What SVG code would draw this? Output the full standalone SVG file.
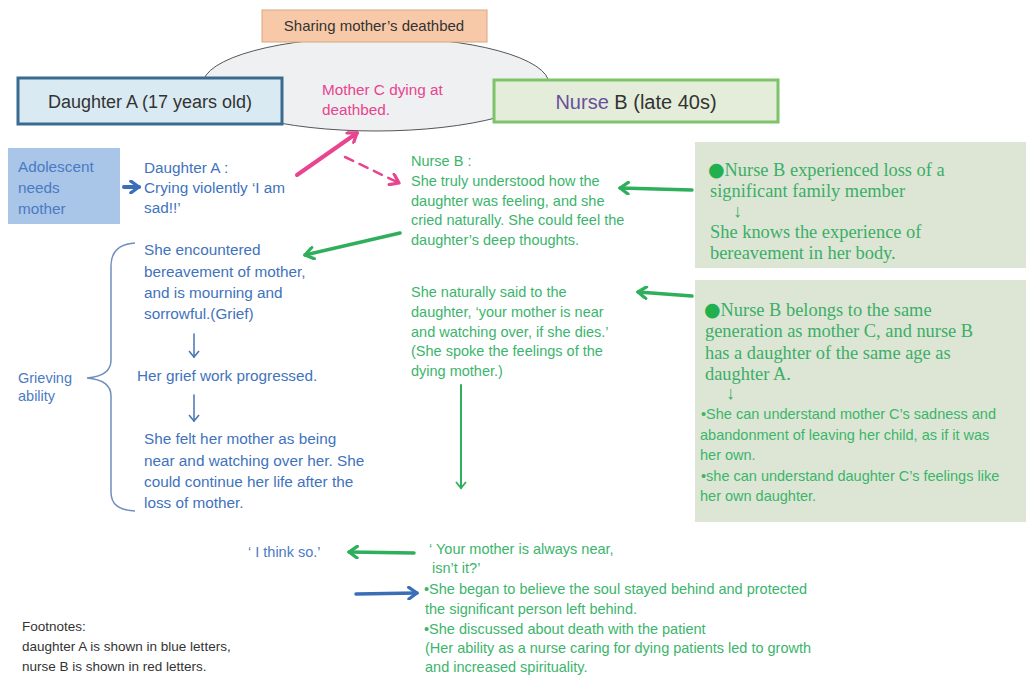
<svg xmlns="http://www.w3.org/2000/svg" width="1026" height="675" viewBox="0 0 1026 675">
<defs>
<style>
.s{font-family:"Liberation Sans",Arial,sans-serif;}
.sf{font-family:"Liberation Serif","Times New Roman",serif;}
.blue{fill:#3f73bd;}
.green{fill:#3bb56c;}
.pink{fill:#e9448f;}
.dark{fill:#333333;}
.t14{font-size:14.5px;}
.t15{font-size:15.3px;}
.serif{font-size:18.4px;fill:#3bae68;}
.dot{font-family:"DejaVu Sans",sans-serif;font-size:19px;fill:#22b04f;}
</style>
<marker id="ag" viewBox="0 0 12 12" refX="9" refY="6" markerWidth="14" markerHeight="14" markerUnits="userSpaceOnUse" orient="auto"><path d="M2,1 L9,6 L2,11" fill="none" stroke="#2fae5c" stroke-width="2.8" stroke-linecap="round" stroke-linejoin="round"/></marker>
<marker id="ab" viewBox="0 0 12 12" refX="9" refY="6" markerWidth="14" markerHeight="14" markerUnits="userSpaceOnUse" orient="auto"><path d="M2,1 L9,6 L2,11" fill="none" stroke="#3a6fb8" stroke-width="2.8" stroke-linecap="round" stroke-linejoin="round"/></marker>
<marker id="ap" viewBox="0 0 12 12" refX="9" refY="6" markerWidth="14" markerHeight="14" markerUnits="userSpaceOnUse" orient="auto"><path d="M2,1 L9,6 L2,11" fill="none" stroke="#e9448f" stroke-width="2.8" stroke-linecap="round" stroke-linejoin="round"/></marker>
<marker id="at" viewBox="0 0 12 12" refX="6" refY="10" markerWidth="12" markerHeight="12" markerUnits="userSpaceOnUse" orient="0"><path d="M1,4 L6,10 L11,4" fill="none" stroke="#4a72b5" stroke-width="1.5"/></marker>
<marker id="atg" viewBox="0 0 12 12" refX="6" refY="10" markerWidth="12" markerHeight="12" markerUnits="userSpaceOnUse" orient="0"><path d="M1,4 L6,10 L11,4" fill="none" stroke="#2fae5c" stroke-width="1.8"/></marker>
</defs>
<rect width="1026" height="675" fill="#ffffff"/>

<g id="deathbed">
<ellipse cx="376" cy="84" rx="173" ry="47" fill="#eef0f2" stroke="#555" stroke-width="1"/>
<rect x="262" y="10" width="225" height="32" fill="#f8c9a8" stroke="#d8a684" stroke-width="1"/>
<text class="s dark" x="374" y="31" font-size="15" text-anchor="middle">Sharing mother’s deathbed</text>
<text class="s pink t15" x="322" y="95">Mother C dying at</text>
<text class="s pink t15" x="322" y="115">deathbed.</text>
</g>

<g id="daughterA">
<rect x="18" y="78" width="264" height="46" fill="#d9eaf3" stroke="#3b6a8f" stroke-width="3"/>
<text class="s dark" x="150" y="108" font-size="18" text-anchor="middle">Daughter A (17 years old)</text>
</g>

<g id="nurseB">
<rect x="494" y="80" width="284" height="42" fill="#e3edd9" stroke="#7cc36a" stroke-width="3"/>
<text class="s" x="636" y="109" font-size="20" text-anchor="middle"><tspan fill="#6a4f9c">Nurse</tspan><tspan fill="#333"> B (late 40s)</tspan></text>
</g>

<g id="adolescent">
<rect x="8" y="148" width="112" height="76" fill="#a9c5e8"/>
<text class="s t15" x="18" y="172" fill="#4a7bc4">Adolescent</text>
<text class="s t15" x="18" y="193" fill="#4a7bc4">needs</text>
<text class="s t15" x="18" y="214" fill="#4a7bc4">mother</text>
</g>

<g id="daughterCry">
<text class="s blue t15" x="144" y="173">Daughter A :</text>
<text class="s blue t15" x="144" y="193">Crying violently ‘I am</text>
<text class="s blue t15" x="144" y="213">sad!!’</text>
</g>

<g id="nurseUnderstood">
<text class="s green t14" x="411" y="166">Nurse B :</text>
<text class="s green t14" x="411" y="186">She truly understood how the</text>
<text class="s green t14" x="411" y="206">daughter was feeling, and she</text>
<text class="s green t14" x="411" y="225">cried naturally. She could feel the</text>
<text class="s green t14" x="411" y="245">daughter’s deep thoughts.</text>
</g>

<g id="loss">
<rect x="695" y="142" width="331" height="126" fill="#dde6d4"/>
<text class="sf serif" x="708" y="176"><tspan class="dot">●</tspan>Nurse B experienced loss of a</text>
<text class="sf serif" x="710" y="197">significant family member</text>
<text class="sf serif" x="733" y="217">↓</text>
<text class="sf serif" x="710" y="238">She knows the experience of</text>
<text class="sf serif" x="710" y="259">bereavement in her body.</text>
</g>

<g id="grief">
<text class="s blue t15" x="144" y="255">She encountered</text>
<text class="s blue t15" x="144" y="277">bereavement of mother,</text>
<text class="s blue t15" x="144" y="298">and is mourning and</text>
<text class="s blue t15" x="144" y="319">sorrowful.(Grief)</text>
<text class="s blue t15" x="137" y="381">Her grief work progressed.</text>
<text class="s blue t15" x="144" y="444">She felt her mother as being</text>
<text class="s blue t15" x="144" y="466">near and watching over her. She</text>
<text class="s blue t15" x="144" y="487">could continue her life after the</text>
<text class="s blue t15" x="144" y="508">loss of mother.</text>
</g>

<g id="grieving">
<path d="M135,243 C118,244 111,252 111,266 L111,360 C111,372 100,377 87,378 C100,379 111,384 111,396 L111,492 C111,504 118,510 135,511" fill="none" stroke="#6f8fbd" stroke-width="1.5"/>
<text class="s t14" x="18" y="383" fill="#4a7bc4">Grieving</text>
<text class="s t14" x="18" y="401" fill="#4a7bc4">ability</text>
</g>

<g id="nurseSaid">
<text class="s green t14" x="411" y="297">She naturally said to the</text>
<text class="s green t14" x="411" y="317">daughter, ‘your mother is near</text>
<text class="s green t14" x="411" y="337">and watching over, if she dies.’</text>
<text class="s green t14" x="411" y="356">(She spoke the feelings of the</text>
<text class="s green t14" x="411" y="376">dying mother.)</text>
</g>

<g id="generation">
<rect x="695" y="280" width="331" height="242" fill="#dde6d4"/>
<text class="sf serif" x="704" y="316"><tspan class="dot">●</tspan>Nurse B belongs to the same</text>
<text class="sf serif" x="705" y="337">generation as mother C, and nurse B</text>
<text class="sf serif" x="705" y="359">has a daughter of the same age as</text>
<text class="sf serif" x="705" y="380">daughter A.</text>
<text class="sf serif" x="726" y="399">↓</text>
<text class="s green t14" x="701" y="419">•She can understand mother C’s sadness and</text>
<text class="s green t14" x="700" y="440">abandonment of leaving her child, as if it was</text>
<text class="s green t14" x="700" y="460">her own.</text>
<text class="s green t14" x="701" y="481">•she can understand daughter C’s feelings like</text>
<text class="s green t14" x="700" y="501">her own daughter.</text>
</g>

<g id="thinkSo">
<text class="s t14" x="248" y="557" fill="#4a7bc4">‘ I think so.’</text>
</g>

<g id="alwaysNear">
<text class="s green t14" x="429" y="554">‘ Your mother is always near,</text>
<text class="s green t14" x="432" y="573">isn’t it?’</text>
<text class="s green t14" x="424" y="594">•She began to believe the soul stayed behind and protected</text>
<text class="s green t14" x="425" y="614">the significant person left behind.</text>
<text class="s green t14" x="424" y="634">•She discussed about death with the patient</text>
<text class="s green t14" x="425" y="653">(Her ability as a nurse caring for dying patients led to growth</text>
<text class="s green t14" x="425" y="672">and increased spirituality.</text>
</g>

<g id="footnotes">
<text class="s dark" x="22" y="631" font-size="13.5">Footnotes:</text>
<text class="s dark" x="22" y="651" font-size="13.5">daughter A is shown in blue letters,</text>
<text class="s dark" x="22" y="671" font-size="13.5">nurse B is shown in red letters.</text>
</g>

<g id="connectors" fill="none" stroke-linecap="round">
<path d="M124,187 L139,187" stroke="#3a6fb8" stroke-width="4" marker-end="url(#ab)"/>
<path d="M297,175 L357,133" stroke="#e9448f" stroke-width="4" marker-end="url(#ap)"/>
<path d="M345,157 L399,183" stroke="#e9448f" stroke-width="2.5" stroke-dasharray="9,7" marker-end="url(#ap)"/>
<path d="M692,190 L620,188" stroke="#2fae5c" stroke-width="3.5" marker-end="url(#ag)"/>
<path d="M400,233 L305,255" stroke="#2fae5c" stroke-width="3.5" marker-end="url(#ag)"/>
<path d="M692,296 L638,292" stroke="#2fae5c" stroke-width="3.5" marker-end="url(#ag)"/>
<path d="M194,334 L194,357" stroke="#4a72b5" stroke-width="1.5" marker-end="url(#at)"/>
<path d="M194,395 L194,421" stroke="#4a72b5" stroke-width="1.5" marker-end="url(#at)"/>
<path d="M461,385 L461,488" stroke="#2fae5c" stroke-width="2" marker-end="url(#atg)"/>
<path d="M414,553 L349,552" stroke="#2fae5c" stroke-width="3.5" marker-end="url(#ag)"/>
<path d="M356,594 L417,593" stroke="#3a6fb8" stroke-width="3.5" marker-end="url(#ab)"/>
</g>
</svg>
